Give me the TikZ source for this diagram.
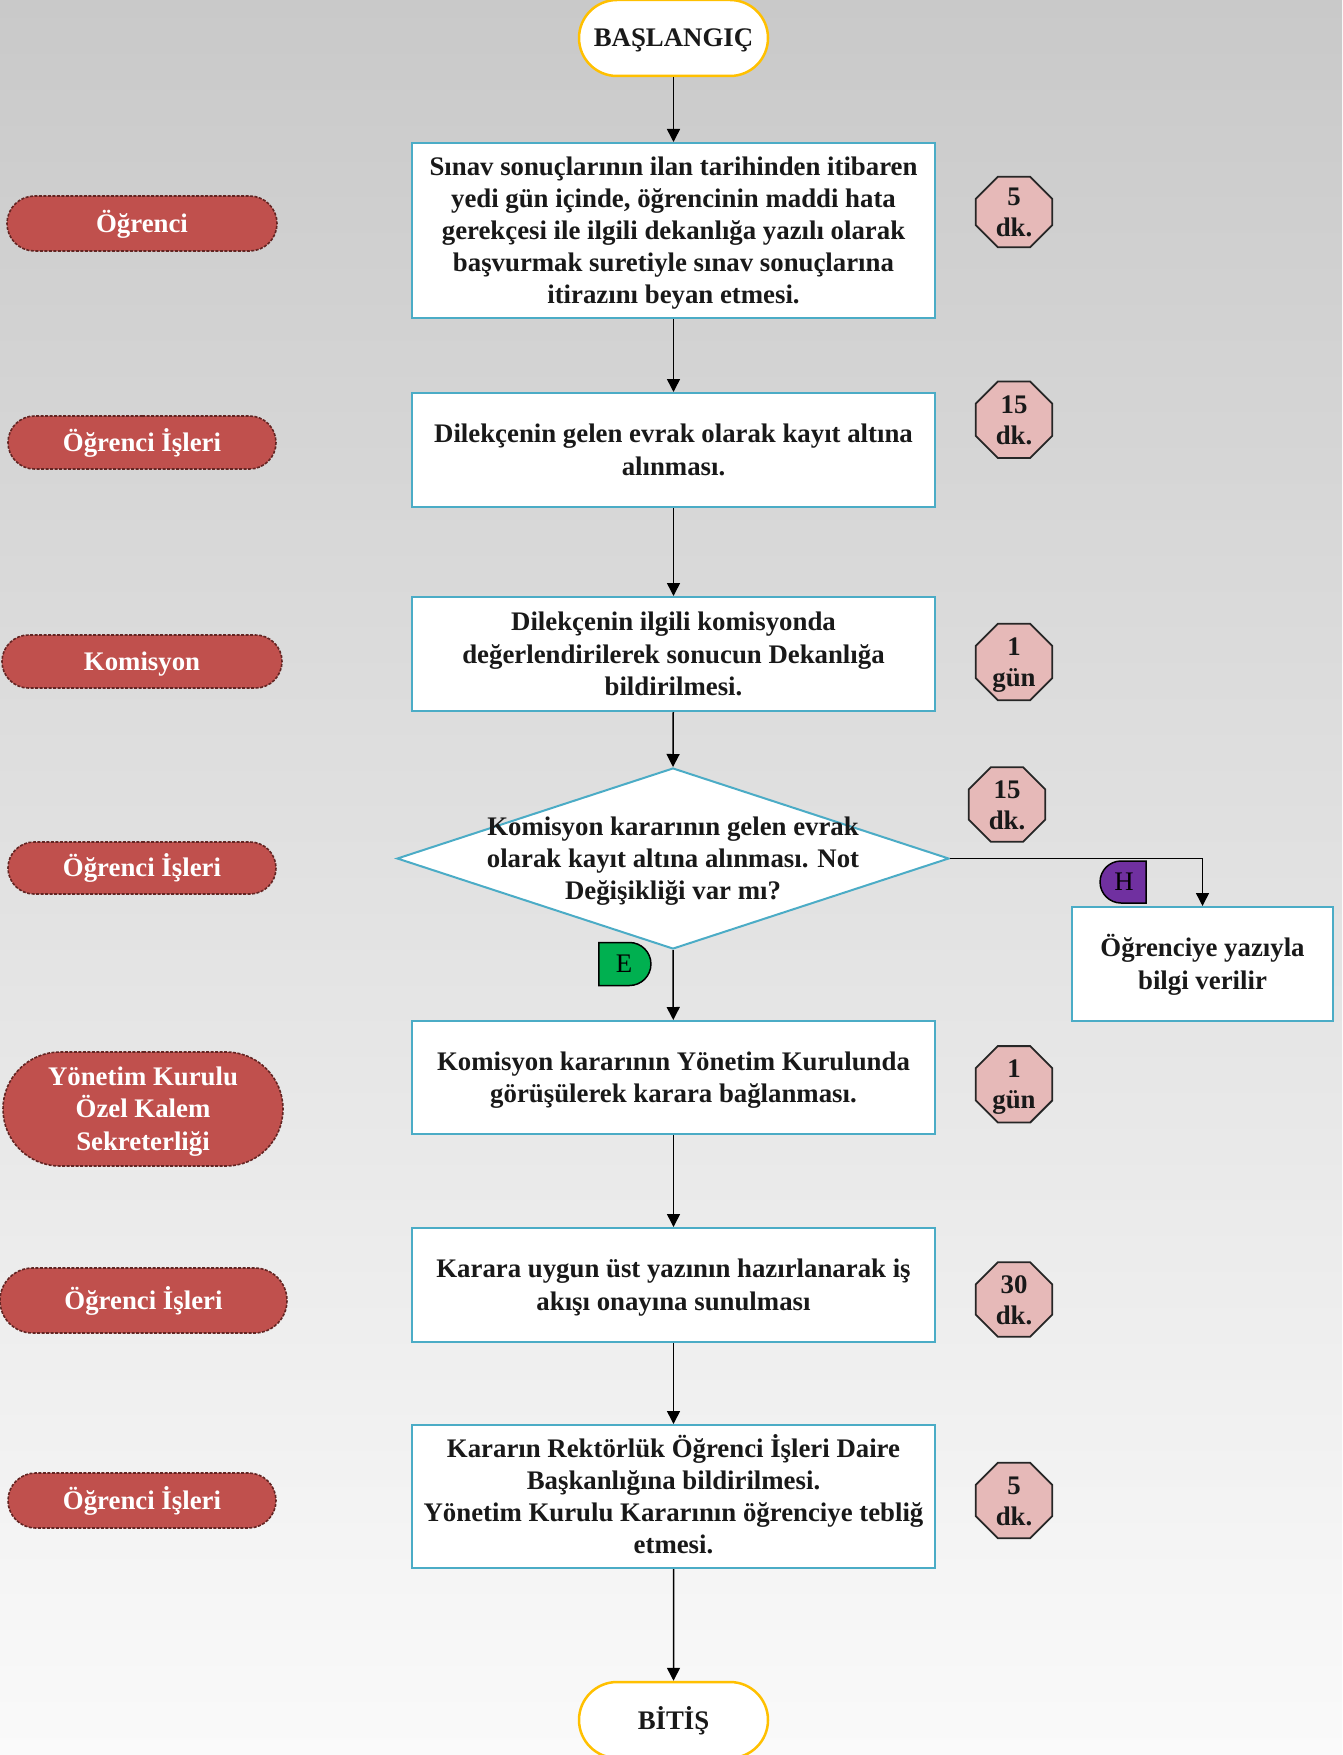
\documentclass[tikz,border=0pt]{standalone}
\usepackage{fontspec}
\setmainfont{Liberation Serif}
\usetikzlibrary{shapes.geometric,shapes.misc,arrows.meta,backgrounds}
\definecolor{bgtop}{HTML}{C9C9C9}
\definecolor{bgbot}{HTML}{FAFAFA}
\definecolor{boxline}{HTML}{4BACC6}
\definecolor{termline}{HTML}{FFC000}
\definecolor{lanefill}{HTML}{C0504D}
\definecolor{laneline}{HTML}{632523}
\definecolor{octfill}{HTML}{E6B9B8}
\definecolor{yesfill}{HTML}{00B050}
\definecolor{nofill}{HTML}{7030A0}
\newcommand\sx{\rule[-5.8pt]{0pt}{29.6pt}}
\begin{document}
\begin{tikzpicture}[x=1pt,y=-1pt,
  txt/.style={font=\fontsize{26.8}{32.2}\selectfont\bfseries, align=center, text=black!90},
  procbox/.style={txt, draw=boxline, line width=2pt, fill=white, minimum width=523pt, inner sep=0pt},
  term/.style={txt, rounded rectangle, draw=termline, line width=2.5pt, fill=white, minimum width=189pt, minimum height=76pt, inner sep=0pt},
  lane/.style={rounded rectangle, draw=laneline, dash pattern=on 3pt off 1.5pt, line width=1.6pt, fill=lanefill, text=white, font=\fontsize{26.8}{32.2}\selectfont\bfseries, align=center, inner sep=0pt},
  timebox/.style={minimum width=76pt, minimum height=76pt, inner sep=0pt, font=\fontsize{26.8}{31}\selectfont\bfseries, align=center, text=black!90},
  octline/.style={draw=black!85, line width=1.8pt, fill=octfill},
  tag/.style={rounded rectangle, draw=black, line width=1.5pt, inner sep=0pt, font=\fontsize{26.8}{30}\selectfont, text=black},
  arr/.style={line width=1.5pt, -{Triangle[length=13pt,width=13pt]}},
  ]
\useasboundingbox (0,0) rectangle (1342,1755);
\begin{pgfonlayer}{background}
\shade[top color=bgtop, bottom color=bgbot] (0,0) rectangle (1342,1755);
\end{pgfonlayer}

% terminals
\node[term] (start) at (673.5,38) {\sx BAŞLANGIÇ\sx};
\node[term] (stop) at (673.5,1720) {\sx BİTİŞ\sx};

% process boxes
\node[procbox, minimum height=175pt] (b1) at (673.5,230.5) {\sx Sınav sonuçlarının ilan tarihinden itibaren\\yedi gün içinde, öğrencinin maddi hata\\gerekçesi ile ilgili dekanlığa yazılı olarak\\başvurmak suretiyle sınav sonuçlarına\\itirazını beyan etmesi.\sx};
\node[procbox, minimum height=114pt] (b2) at (673.5,450) {\sx Dilekçenin gelen evrak olarak kayıt altına\\alınması.\sx};
\node[procbox, minimum height=114pt] (b3) at (673.5,654) {\sx Dilekçenin ilgili komisyonda\\değerlendirilerek sonucun Dekanlığa\\bildirilmesi.\sx};
\node[diamond, draw=boxline, line width=2pt, fill=white, minimum width=552pt, minimum height=181pt, inner sep=0pt] (d) at (673,858.5) {};
\node[txt] (dtext) at (d.center) {\sx Komisyon kararının gelen evrak\\olarak kayıt altına alınması. Not\\Değişikliği var mı?\sx};
\node[procbox, minimum height=113pt] (b4) at (673.5,1077.5) {\sx Komisyon kararının Yönetim Kurulunda\\görüşülerek karara bağlanması.\sx};
\node[procbox, minimum height=114pt] (b5) at (673.5,1285) {\sx Karara uygun üst yazının hazırlanarak iş\\akışı onayına sunulması\sx};
\node[procbox, minimum height=143pt] (b6) at (673.5,1496.5) {\sx Kararın Rektörlük Öğrenci İşleri Daire\\Başkanlığına bildirilmesi.\\Yönetim Kurulu Kararının öğrenciye tebliğ\\etmesi.\sx};
\node[procbox, minimum width=261pt, minimum height=114pt] (side) at (1202.5,964) {\sx Öğrenciye yazıyla\\bilgi verilir\sx};

% connectors
\draw[arr] (start) -- (b1);
\draw[arr] (b1) -- (b2);
\draw[arr] (b2) -- (b3);
\draw[arr] (b3) -- (d.north);
\draw[arr] (d.south) -- (b4);
\draw[arr] (b4) -- (b5);
\draw[arr] (b5) -- (b6);
\draw[arr] (b6) -- (stop);
\draw[arr] (d.east) -| (side.north);

% yes / no tags
\node[tag, fill=yesfill, rounded rectangle left arc=none, minimum width=52pt, minimum height=43pt] (yes) at (624,964) {E};
\node[tag, fill=nofill, rounded rectangle right arc=none, minimum width=46pt, minimum height=42pt] (no) at (1124,882) {H};

% lanes
\node[lane, minimum width=270pt, minimum height=55pt] (l1) at (142,223.5) {\sx Öğrenci\sx};
\node[lane, minimum width=268pt, minimum height=53pt] (l2) at (142,442.5) {\sx Öğrenci İşleri\sx};
\node[lane, minimum width=280pt, minimum height=53pt] (l3) at (142,661.5) {\sx Komisyon\sx};
\node[lane, minimum width=268pt, minimum height=52pt] (l4) at (142,868) {\sx Öğrenci İşleri\sx};
\node[lane, minimum width=280pt, minimum height=114pt] (l5) at (143,1109) {\sx Yönetim Kurulu\\Özel Kalem\\Sekreterliği\sx};
\node[lane, minimum width=287pt, minimum height=65pt] (l6) at (143.5,1300.5) {\sx Öğrenci İşleri\sx};
\node[lane, minimum width=268pt, minimum height=55pt] (l7) at (142,1500.5) {\sx Öğrenci İşleri\sx};

% durations
\node[timebox, minimum height=70pt] (t1) at (1014,212) {\sx 5\\dk.\sx};
\node[timebox] (t2) at (1014,419.7) {\sx 15\\dk.\sx};
\node[timebox] (t3) at (1014,662) {\sx 1\\gün\sx};
\node[timebox, minimum height=74pt] (t4) at (1007,804.5) {\sx 15\\dk.\sx};
\node[timebox] (t5) at (1014,1084.3) {\sx 1\\gün\sx};
\node[timebox, minimum height=74pt] (t6) at (1014,1299.5) {\sx 30\\dk.\sx};
\node[timebox, minimum height=75pt] (t7) at (1014,1500.5) {\sx 5\\dk.\sx};
\begin{pgfonlayer}{background}
\foreach \n in {t1,t2,t3,t4,t5,t6,t7}{
  \filldraw[octline] ([xshift=22pt]\n.north west) -- ([xshift=-22pt]\n.north east)
    -- ([yshift=-22pt]\n.north east) -- ([yshift=22pt]\n.south east)
    -- ([xshift=-22pt]\n.south east) -- ([xshift=22pt]\n.south west)
    -- ([yshift=22pt]\n.south west) -- ([yshift=-22pt]\n.north west) -- cycle;
}
\end{pgfonlayer}
\end{tikzpicture}
\end{document}
